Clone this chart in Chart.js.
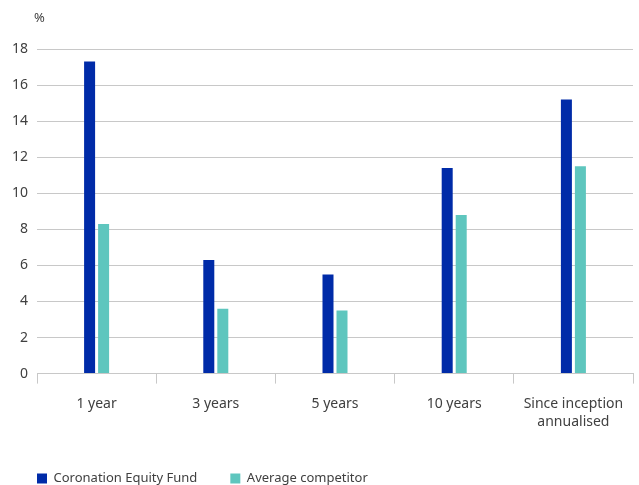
<!DOCTYPE html>
<html>
<head>
<meta charset="utf-8">
<script src="https://cdn.jsdelivr.net/npm/chart.js@4/dist/chart.umd.min.js"></script>
<style>
  html, body { margin: 0; padding: 0; background: #fff; }
  #wrap { width: 639px; height: 485px; }
</style>
</head>
<body>
<div id="wrap"><canvas id="chart"></canvas></div>
<script>
const periods = ['1 year', '3 years', '5 years', '10 years', ['Since inception', 'annualised']]
const fundReturns = [17.3, 6.3, 5.5, 11.4, 15.2]
const competitorReturns = [8.3, 3.6, 3.5, 8.8, 11.5]
const yTicks = [0, 2, 4, 6, 8, 10, 12, 14, 16, 18]

const FONT = "'Noto Sans', sans-serif"
const TEXT = '#404040'
const GRID = '#c8c8c8'

// the "%" unit label above the y axis
const unitLabel = {
  id: 'unitLabel',
  afterDraw(chart) {
    const ctx = chart.ctx
    ctx.save()
    ctx.font = '13px ' + FONT
    ctx.fillStyle = TEXT
    ctx.textAlign = 'left'
    ctx.textBaseline = 'middle'
    ctx.fillText('%', chart.chartArea.left - 3, 18)
    ctx.restore()
  }
}

new Chart(document.getElementById('chart').getContext('2d'), {
  type: 'bar',
  data: {
    labels: periods,
    datasets: [
      {
        label: 'Coronation Equity Fund',
        data: fundReturns,
        backgroundColor: '#002BA8'
      },
      {
        label: 'Average competitor',
        data: competitorReturns,
        backgroundColor: '#5EC6BE'
      }
    ]
  },
  options: {
    responsive: true,
    maintainAspectRatio: false,
    animation: false,
    categoryPercentage: 0.235,
    barPercentage: 0.786,
    layout: {
      padding: { left: 4, right: 6, top: 49, bottom: -10 }
    },
    plugins: {
      legend: {
        position: 'bottom',
        align: 'start',
        labels: {
          boxWidth: 10,
          boxHeight: 10,
          padding: 33,
          color: TEXT,
          font: { family: FONT, size: 13 }
        }
      },
      title: { display: false },
      tooltip: { enabled: false }
    },
    scales: {
      x: {
        afterFit(axis) {
          axis.height -= 3
        },
        grid: {
          display: true,
          drawOnChartArea: false,
          drawTicks: true,
          tickLength: 10,
          color: GRID,
          offset: true
        },
        border: { display: true, color: GRID },
        ticks: {
          color: TEXT,
          padding: 11,
          maxRotation: 0,
          font: { family: FONT, size: 14, lineHeight: 1.3 }
        }
      },
      y: {
        min: 0,
        max: 18,
        afterBuildTicks(axis) {
          axis.ticks = yTicks.map(v => ({ value: v }))
        },
        afterFit(axis) {
          axis.width = 33
        },
        grid: {
          color: GRID,
          drawTicks: false
        },
        border: { display: false },
        ticks: {
          color: TEXT,
          padding: 9,
          font: { family: FONT, size: 14 }
        }
      }
    }
  },
  plugins: [unitLabel]
})
</script>
</body>
</html>
